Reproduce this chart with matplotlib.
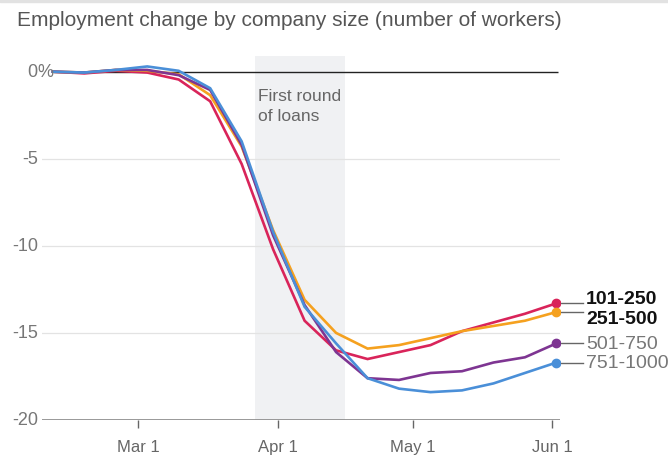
import matplotlib
matplotlib.use("Agg")
import matplotlib.pyplot as plt
import matplotlib.dates as mdates
from datetime import date, timedelta

plt.rcParams['font.family'] = ['Liberation Sans', 'DejaVu Sans']

# ---- data ----
dates = [date(2020, 2, 11) + timedelta(days=7 * i) for i in range(17)]
s_101_250 = [0.0, -0.1, 0.05, -0.05, -0.45, -1.7, -5.3, -10.2, -14.3, -16.0, -16.5, -16.1, -15.7, -14.9, -14.4, -13.9, -13.3]
s_251_500 = [0.0, -0.05, 0.1, 0.05, -0.15, -1.35, -4.3, -9.1, -13.1, -15.0, -15.9, -15.7, -15.3, -14.9, -14.6, -14.3, -13.8]
s_501_750 = [0.0, -0.05, 0.1, 0.1, -0.2, -1.05, -4.2, -9.4, -13.4, -16.1, -17.6, -17.7, -17.3, -17.2, -16.7, -16.4, -15.6]
s_751_1000 = [0.0, -0.05, 0.1, 0.3, 0.05, -0.95, -4.0, -9.2, -13.5, -15.6, -17.6, -18.2, -18.4, -18.3, -17.9, -17.3, -16.7]
series_names = ['101-250', '251-500', '501-750', '751-1000']
series_vals = [s_101_250, s_251_500, s_501_750, s_751_1000]
colors = ['#d9245a', '#f5a11f', '#7e3592', '#4a8fd8']
label_bold = [True, True, False, False]
label_offsets = [0.25, -0.35, 0.0, 0.0]
yticks = [0, -5, -10, -15, -20]
xtick_dates = [date(2020, 3, 1), date(2020, 4, 1), date(2020, 5, 1), date(2020, 6, 1)]
xtick_labels = ['Mar 1', 'Apr 1', 'May 1', 'Jun 1']
shade_start, shade_end = date(2020, 3, 27), date(2020, 4, 16)

fig = plt.figure(figsize=(6.68, 4.6), dpi=100)
fig.patches.append(plt.Rectangle((0, 0.993), 1, 0.007, transform=fig.transFigure,
                                 color='#e2e2e2', zorder=0))
ax = fig.add_axes([42 / 668, 39 / 460, 518 / 668, 364 / 460])
ax.set_xlim(mdates.date2num(date(2020, 2, 8)) + 0.6, mdates.date2num(date(2020, 6, 1)) + 1.8)
ax.set_ylim(-20, 0.9)

ax.axvspan(shade_start, shade_end, color='#f0f1f3', zorder=0, lw=0)
for yv in yticks[1:-1]:
    ax.axhline(yv, color='#e3e3e3', lw=0.9, zorder=1)
ax.axhline(-20, color='#888888', lw=1.2, zorder=1)
ax.hlines(0, mdates.date2num(dates[0]), mdates.date2num(dates[-1]) + 0.3, color='#222222', lw=1.0, zorder=1)

xd = mdates.date2num(dates)
for name, vals, c, bold, off in zip(series_names, series_vals, colors, label_bold, label_offsets):
    ax.plot(xd, vals, color=c, lw=1.9, zorder=3, solid_joinstyle='miter')
    ax.plot(xd[-1], vals[-1], 'o', color=c, ms=6, zorder=4)
    ax.plot([xd[-1], xd[-1] + 6.0], [vals[-1], vals[-1]], color='#666666', lw=1.0, zorder=2,
            clip_on=False)
    ax.text(xd[-1] + 6.6, vals[-1] + off, name, fontsize=14,
            fontweight='bold' if bold else 'normal',
            color='#111111' if bold else '#777777', va='center', ha='left', clip_on=False)

for s in ax.spines.values():
    s.set_visible(False)
ax.set_yticks([])
ax.set_xticks(mdates.date2num(xtick_dates))
ax.set_xticklabels(xtick_labels, fontsize=12, color='#666666')
ax.tick_params(axis='x', length=6, width=1, color='#666666', pad=8)

for yv in yticks:
    ax.text(-0.008, yv, f'{yv}', transform=ax.get_yaxis_transform(), ha='right', va='center',
            fontsize=13, color='#777777')
ax.text(-0.008, 0, '%', transform=ax.get_yaxis_transform(), ha='left', va='center',
        fontsize=13, color='#777777')

ax.text(mdates.date2num(shade_start) + 0.7, -1.95, 'First round\nof loans', fontsize=12.5,
        color='#666666', ha='left', va='center', linespacing=1.4)

fig.text(17 / 668, 1 - 20 / 460, 'Employment change by company size (number of workers)',
         fontsize=15, color='#555555', ha='left', va='center')

fig.savefig('out.png', dpi=100)
